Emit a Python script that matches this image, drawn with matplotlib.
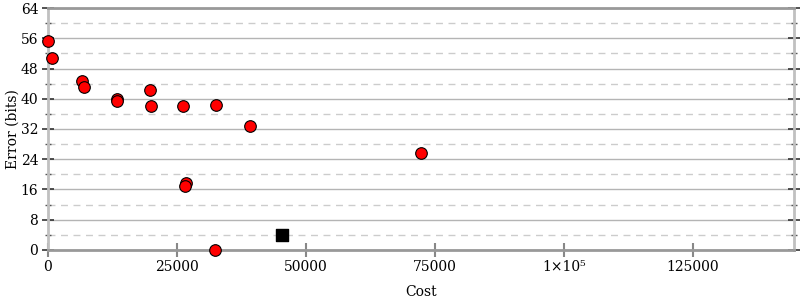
import matplotlib
matplotlib.use("Agg")
import matplotlib.pyplot as plt
from matplotlib.ticker import FuncFormatter, MultipleLocator

# red points: (cost, error bits)
cost = [0, 720, 6650, 6980, 13430, 13430, 19770, 19900, 26100, 32560,
        39150, 72340, 26690, 26550, 32360]
error = [55.3, 50.9, 44.7, 43.2, 39.9, 39.4, 42.3, 38.2, 38.0, 38.4,
         32.9, 25.6, 17.8, 16.9, 0.0]

# black square point
best_cost = [45350]
best_error = [4.0]

x_ticks = [0, 25000, 50000, 75000, 100000, 125000]
y_ticks = [0, 8, 16, 24, 32, 40, 48, 56, 64]

plt.rcParams['font.family'] = 'DejaVu Serif'
plt.rcParams['font.size'] = 9

fig = plt.figure(figsize=(8, 3), dpi=100)
ax = fig.add_axes([0.06, 0.1667, 0.9325, 0.8066])

ax.set_xlim(0, 144600)
ax.set_ylim(0, 64)

# grid: solid at majors, dashed at minors
ax.yaxis.set_major_locator(MultipleLocator(8))
ax.yaxis.set_minor_locator(MultipleLocator(4))
ax.grid(True, which='major', axis='y', color='#b4b4b4', lw=1, zorder=0)
ax.grid(True, which='minor', axis='y', color='#cccccc', lw=1, ls=(0, (5, 4)), zorder=0)

ax.scatter(cost, error, s=70, c='red', edgecolors='black', linewidths=0.8,
           zorder=3, clip_on=False)
ax.scatter(best_cost, best_error, s=80, c='black', marker='s', zorder=3)

ax.set_xticks(x_ticks)
ax.set_yticks(y_ticks)

def fmt_x(v, pos):
    if v == 100000:
        return '1×10⁵'
    return '%d' % v

ax.xaxis.set_major_formatter(FuncFormatter(fmt_x))

ax.tick_params(axis='x', which='both', direction='inout', length=10,
               width=1.5, color='#888888', top=False, pad=2)
ax.tick_params(axis='y', which='major', direction='inout', length=8,
               width=1.2, color='#333333', right=True, pad=3)
ax.tick_params(axis='y', which='minor', direction='inout', length=4,
               width=1, color='#555555', right=True)
ax.tick_params(labelsize=10)

for side in ['left', 'right']:
    ax.spines[side].set_color('#c0c0c0')
    ax.spines[side].set_linewidth(2)
for side in ['top', 'bottom']:
    ax.spines[side].set_color('#999999')
    ax.spines[side].set_linewidth(2)

ax.set_xlabel('Cost', fontsize=10, labelpad=8)
ax.set_ylabel('Error (bits)', fontsize=10, labelpad=1)

fig.savefig('out.png', dpi=100)
